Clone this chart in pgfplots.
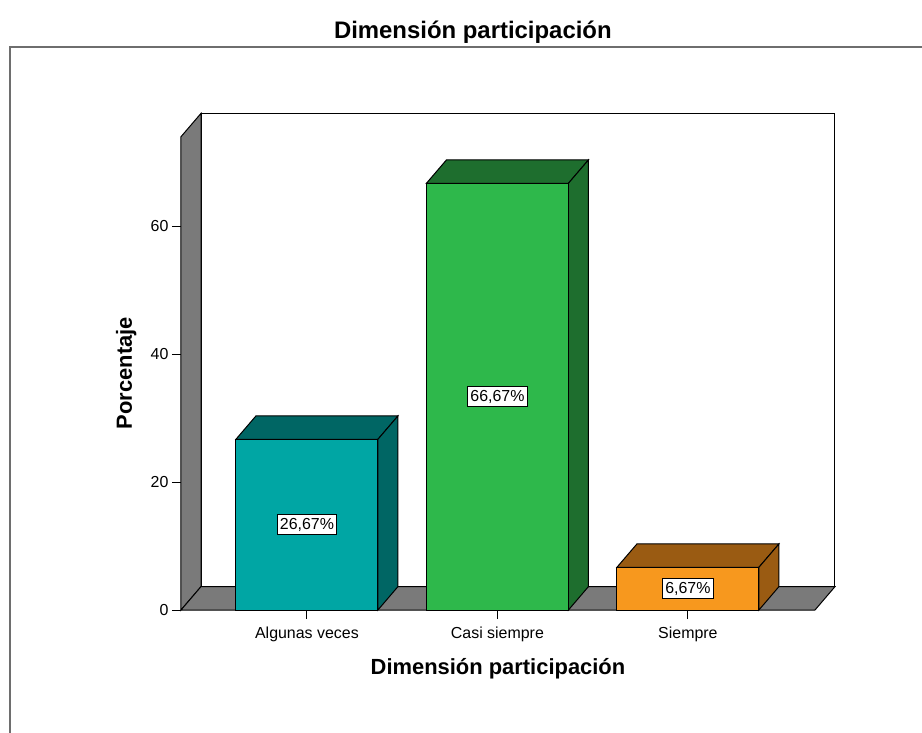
\documentclass[border=0pt]{standalone}
\usepackage{fontspec}
\setmainfont{Liberation Sans}
\usepackage{pgfplots}
\pgfplotsset{compat=1.18}

\definecolor{wallgray}{RGB}{122,122,122}
\definecolor{frameg}{RGB}{110,110,110}
\definecolor{tealF}{RGB}{0,166,164}
\definecolor{tealD}{RGB}{0,102,100}
\definecolor{greenF}{RGB}{46,184,75}
\definecolor{greenD}{RGB}{30,110,46}
\definecolor{orangeF}{RGB}{247,152,30}
\definecolor{orangeD}{RGB}{154,91,18}

\begin{document}
\begin{tikzpicture}
\useasboundingbox (-181bp,-123bp) rectangle (741bp,610bp);
\begin{axis}[
    x=190.5bp, y=6.4bp,
    xmin=-0.661, xmax=2.772,
    ymin=0, ymax=77.6,
    clip=false,
    axis line style={draw=none},
    tick align=outside,
    xtick pos=bottom, ytick pos=left,
    major tick length=9bp,
    tick style={black, line width=0.9bp},
    xtick={0,1,2},
    xticklabels={Algunas veces, Casi siempre, Siempre},
    ytick={0,20,40,60},
    /pgf/number format/assume math mode=true,
    tick label style={font=\fontsize{16}{19}\selectfont},
    xticklabel style={yshift=-4bp},
    title={Dimensión participación},
    every axis title/.style={at={(axis cs:0.871,90.3)}, anchor=center,
        font=\fontsize{24}{28}\selectfont\bfseries},
    xlabel={Dimensión participación},
    every axis x label/.style={at={([yshift=-59bp]axis cs:1.003,0)}, anchor=center,
        font=\fontsize{22}{26}\selectfont\bfseries},
    ylabel={Porcentaje},
    every axis y label/.style={at={([xshift=-41bp]axis cs:-0.661,37)}, rotate=90,
        anchor=south, font=\fontsize{22}{26}\selectfont\bfseries},
]
% back wall, left wall, floor
\addplot[fill=white, draw=black, line width=1bp] coordinates {(-0.556,3.65) (2.772,3.65) (2.772,77.6) (-0.556,77.6)} -- cycle;
\addplot[fill=wallgray, draw=black, line width=1bp] coordinates {(-0.661,0) (-0.556,3.65) (-0.556,77.6) (-0.661,73.95)} -- cycle;
\addplot[fill=wallgray, draw=black, line width=1bp] coordinates {(-0.661,0) (2.667,0) (2.772,3.65) (-0.556,3.65)} -- cycle;

% Algunas veces
\addplot[fill=tealD, draw=black, line width=1bp] coordinates {(-0.3727,26.67) (-0.2677,30.32) (0.4777,30.32) (0.3727,26.67)} -- cycle;
\addplot[fill=tealD, draw=black, line width=1bp] coordinates {(0.3727,0) (0.4777,3.65) (0.4777,30.32) (0.3727,26.67)} -- cycle;
\addplot[ybar, bar shift=0pt, bar width=0.7454, fill=tealF, draw=black, line width=1bp] coordinates {(0,26.67)};

% Casi siempre
\addplot[fill=greenD, draw=black, line width=1bp] coordinates {(0.6273,66.67) (0.7323,70.32) (1.4777,70.32) (1.3727,66.67)} -- cycle;
\addplot[fill=greenD, draw=black, line width=1bp] coordinates {(1.3727,0) (1.4777,3.65) (1.4777,70.32) (1.3727,66.67)} -- cycle;
\addplot[ybar, bar shift=0pt, bar width=0.7454, fill=greenF, draw=black, line width=1bp] coordinates {(1,66.67)};

% Siempre
\addplot[fill=orangeD, draw=black, line width=1bp] coordinates {(1.6273,6.67) (1.7323,10.32) (2.4777,10.32) (2.3727,6.67)} -- cycle;
\addplot[fill=orangeD, draw=black, line width=1bp] coordinates {(2.3727,0) (2.4777,3.65) (2.4777,10.32) (2.3727,6.67)} -- cycle;
\addplot[ybar, bar shift=0pt, bar width=0.7454, fill=orangeF, draw=black, line width=1bp] coordinates {(2,6.67)};

% value labels in the middle of each bar
\addplot[draw=none, mark=none, nodes near coords, point meta=explicit symbolic,
    every node near coord/.append style={anchor=center, fill=white, draw=black,
        line width=0.8bp, inner xsep=2.5bp, inner ysep=3.5bp, font=\fontsize{16}{19}\selectfont}]
    coordinates {(0,13.335) [26,67\%] (1,33.335) [66,67\%] (2,3.335) [6,67\%]};
\end{axis}
\draw[frameg, line width=2bp] (-171bp,-125bp) -- (-171bp,563bp) -- (745bp,563bp);
\end{tikzpicture}
\end{document}
